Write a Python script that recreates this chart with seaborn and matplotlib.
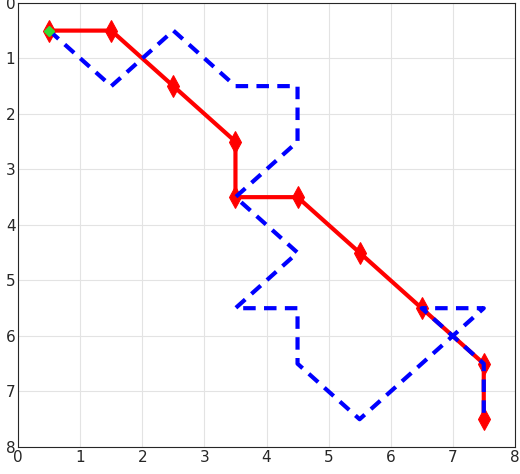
import matplotlib
matplotlib.use("Agg")
import matplotlib.pyplot as plt
import seaborn as sns
import pandas as pd

sns.set_theme(style="whitegrid")
plt.rcParams['font.family'] = ['DejaVu Sans']

red_x = [0.5, 1.5, 2.5, 3.5, 3.5, 4.5, 5.5, 6.5, 7.5, 7.5]
red_y = [0.5, 0.5, 1.5, 2.5, 3.5, 3.5, 4.5, 5.5, 6.5, 7.5]
blue_x = [0.5, 1.5, 2.5, 3.5, 4.5, 4.5, 3.5, 4.5, 3.5, 4.5, 4.5, 5.5, 7.5, 6.5, 7.5, 7.5]
blue_y = [0.5, 1.5, 0.5, 1.5, 1.5, 2.5, 3.5, 4.5, 5.5, 5.5, 6.5, 7.5, 5.5, 5.5, 6.5, 7.5]
start = (0.5, 0.5)

fig = plt.figure(figsize=(5.2, 4.74), dpi=100)
ax = fig.add_axes([0.035, 0.057, 0.955, 0.937])
red = pd.DataFrame({"x": red_x, "y": red_y, "o": range(len(red_x))})
blue = pd.DataFrame({"x": blue_x, "y": blue_y, "o": range(len(blue_x))})
sns.lineplot(data=red, x="x", y="y", sort=False, estimator=None, color="red", lw=3,
             marker="d", markersize=11, markeredgecolor="red", ax=ax, zorder=3)
sns.lineplot(data=blue, x="x", y="y", sort=False, estimator=None, color="blue", lw=3,
             linestyle=(0, (3, 2)), ax=ax, zorder=4)
ax.plot([start[0]], [start[1]], marker="D", color="#33dd33", markersize=5, zorder=5)
ax.set_xlim(0, 8); ax.set_ylim(8, 0)
ax.set_xticks(range(9)); ax.set_yticks(range(9))
ax.set_xlabel(""); ax.set_ylabel("")
ax.grid(color="#e3e3e3", lw=0.8)
for s in ax.spines.values():
    s.set_color("#262626"); s.set_linewidth(0.8)
ax.tick_params(labelsize=11, length=0, pad=2)
fig.savefig("out.png", dpi=100)
